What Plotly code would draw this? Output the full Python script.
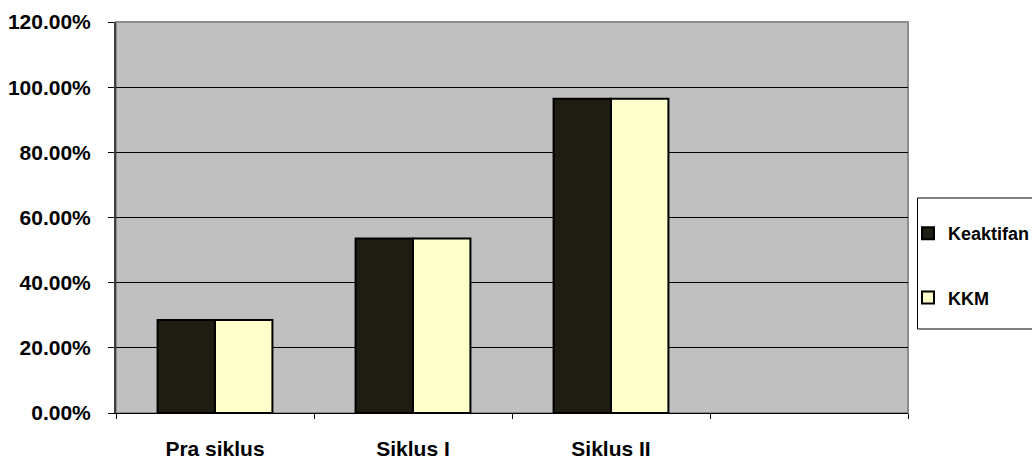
import plotly.graph_objects as go

categories = ["Pra siklus", "Siklus I", "Siklus II", " "]
keaktifan = [0.2857, 0.5357, 0.9643, None]
kkm = [0.2857, 0.5357, 0.9643, None]
series_names = ["Keaktifan", "KKM"]
y_ticks = [0, 0.2, 0.4, 0.6, 0.8, 1.0, 1.2]

dark = "#1F1C12"
light = "#FFFFCC"
font_family = "Liberation Sans, Arial, sans-serif"

fig = go.Figure()
fig.add_trace(go.Bar(x=categories, y=keaktifan, name=series_names[0],
                     marker=dict(color=dark, line=dict(color="#000000", width=2)),
                     legendgroup="a"))
fig.add_trace(go.Bar(x=categories, y=kkm, name=series_names[1],
                     marker=dict(color=light, line=dict(color="#000000", width=2)),
                     legendgroup="b"))

W, H = 1032, 460
L, R, T, B = 116, 908, 22, 413


def px_x(px):
    return (px - L) / (R - L)


def px_y(py):
    return (B - py) / (B - T)


fig.update_layout(
    width=W, height=H,
    margin=dict(l=L, r=W - R, t=T, b=H - B, autoexpand=False),
    paper_bgcolor="white",
    plot_bgcolor="#C0C0C0",
    barmode="group",
    bargap=0.42,
    bargroupgap=0,
    font=dict(family=font_family, size=21, color="black", weight="bold"),
    showlegend=True,
    legend=dict(
        x=px_x(908), xanchor="left",
        y=px_y(215), yanchor="top",
        bgcolor="rgba(0,0,0,0)",
        borderwidth=0,
        traceorder="grouped",
        tracegroupgap=38,
        font=dict(family=font_family, size=18, color="black", weight="bold"),
        itemwidth=30,
    ),
    shapes=[
        dict(type="rect", xref="x domain", yref="y domain", x0=0, x1=1, y0=0, y1=1,
             line=dict(color="#8C8C8C", width=2), fillcolor="rgba(0,0,0,0)", layer="below"),
        dict(type="rect", xref="paper", yref="paper",
             x0=px_x(917.5), x1=px_x(1045), y0=px_y(329), y1=px_y(198),
             line=dict(color="#000000", width=1), fillcolor="white", layer="below"),
    ],
)

fig.update_xaxes(
    type="category",
    categoryorder="array", categoryarray=categories,
    showgrid=False,
    showline=True, linecolor="#000000", linewidth=1,
    ticks="outside", tickson="boundaries", ticklen=5, tickcolor="#000000",
    ticklabelstandoff=17,
    tickfont=dict(family=font_family, size=21, color="black", weight="bold"),
)
fig.update_yaxes(
    range=[0, 1.2],
    tickvals=y_ticks,
    tickformat=".2%",
    showgrid=True, gridcolor="#000000", gridwidth=1,
    showline=True, linecolor="#404040", linewidth=2,
    ticks="outside", ticklen=6, tickcolor="#000000",
    ticklabelstandoff=13,
    zeroline=False,
    tickfont=dict(family=font_family, size=21, color="black", weight="bold"),
)

fig.write_html("out.html")
